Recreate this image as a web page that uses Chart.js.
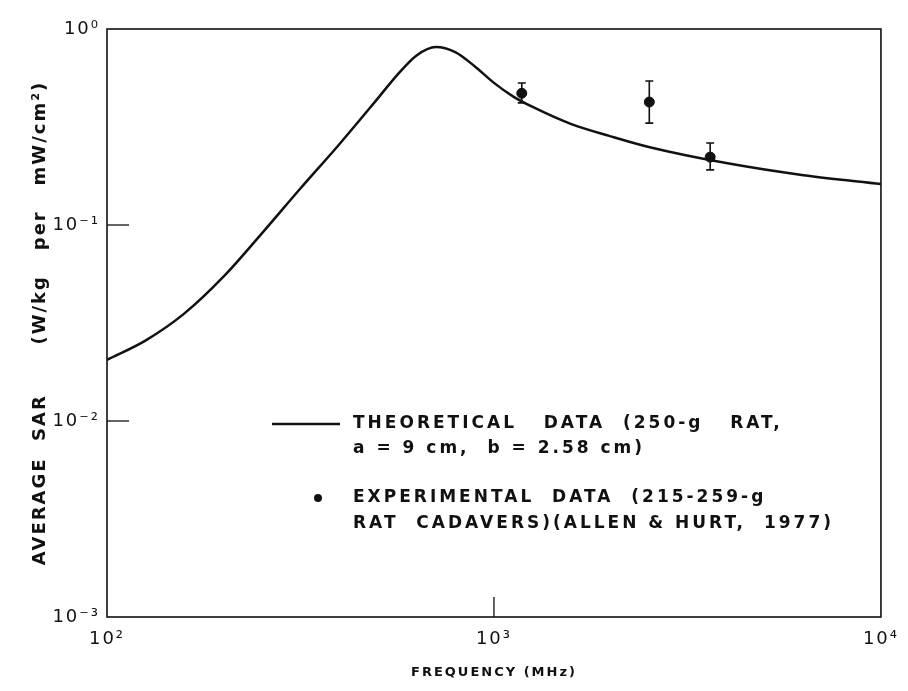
<!DOCTYPE html>
<html>
<head>
<meta charset="utf-8">
<script src="https://cdn.jsdelivr.net/npm/chart.js@4.4.1/dist/chart.umd.min.js"></script>
<style>
  html, body { margin: 0; padding: 0; background: #fff; }
  #wrap { width: 908px; height: 691px; position: relative; }
</style>
</head>
<body>
<div id="wrap"><canvas id="chart-sar"></canvas></div>
<script>
// ------------------------------------------------------------
// DATOS
// ------------------------------------------------------------
// curva teórica (rata 250 g, a = 9 cm, b = 2.58 cm)
const theoryFreq = [100, 126, 158, 200, 251, 316, 398, 501, 562, 631, 708, 794, 891, 1000, 1122, 1259, 1585, 1995, 2512, 3981, 6310, 10000];
const theorySar  = [0.0205, 0.0258, 0.0352, 0.0545, 0.0904, 0.1535, 0.2576, 0.4426, 0.582, 0.733, 0.809, 0.762, 0.646, 0.531, 0.452, 0.400, 0.327, 0.284, 0.250, 0.207, 0.1795, 0.1618];

// datos experimentales (Allen & Hurt, 1977)
const expFreq = [1180, 2520, 3620];
const expSar  = [0.47, 0.424, 0.222];
const expLow  = [0.42, 0.331, 0.191];
const expHigh = [0.53, 0.543, 0.262];

// ticks de los ejes
const xTicks = [100, 1000, 10000];
const yTicks = [0.001, 0.01, 0.1, 1];
const xInnerTicks = [1000];
const yInnerTicks = [0.01, 0.1];

const legendTheory = ['THEORETICAL   DATA  (250-g   RAT,', 'a = 9 cm,  b = 2.58 cm)'];
const legendExp    = ['EXPERIMENTAL  DATA  (215-259-g', 'RAT  CADAVERS)(ALLEN & HURT,  1977)'];

const INK = '#111';
const SUP = { '-': '⁻', '0': '⁰', '1': '¹', '2': '²', '3': '³', '4': '⁴' };
const pow10Label = v => '10' + String(Math.round(Math.log10(v))).split('').map(c => SUP[c]).join('');

Chart.defaults.font.family = '"DejaVu Sans", sans-serif';
Chart.defaults.color = INK;

// ------------------------------------------------------------
// PLUGIN: marco, ticks interiores, barras de error, leyenda
// ------------------------------------------------------------
const paperPlugin = {
    id: 'paper',
    beforeDraw(chart) {
        chart.ctx.letterSpacing = '2px';
    },
    afterDatasetsDraw(chart) {
        const ctx = chart.ctx;
        const a = chart.chartArea;
        const xs = chart.scales.x, ys = chart.scales.y;
        ctx.save();
        ctx.strokeStyle = INK;
        ctx.fillStyle = INK;

        // marco
        ctx.lineWidth = 1.6;
        ctx.strokeRect(a.left, a.top, a.right - a.left, a.bottom - a.top);

        // ticks interiores
        ctx.lineWidth = 1.3;
        yInnerTicks.forEach(v => {
            const y = ys.getPixelForValue(v);
            ctx.beginPath(); ctx.moveTo(a.left, y); ctx.lineTo(a.left + 22, y); ctx.stroke();
        });
        xInnerTicks.forEach(v => {
            const x = xs.getPixelForValue(v);
            ctx.beginPath(); ctx.moveTo(x, a.bottom); ctx.lineTo(x, a.bottom - 20); ctx.stroke();
        });

        // barras de error
        ctx.lineWidth = 1.6;
        expFreq.forEach((f, i) => {
            const x = xs.getPixelForValue(f);
            const y1 = ys.getPixelForValue(expHigh[i]);
            const y2 = ys.getPixelForValue(expLow[i]);
            ctx.beginPath();
            ctx.moveTo(x, y1); ctx.lineTo(x, y2);
            ctx.moveTo(x - 4, y1); ctx.lineTo(x + 4, y1);
            ctx.moveTo(x - 4, y2); ctx.lineTo(x + 4, y2);
            ctx.stroke();
        });

        // leyenda
        ctx.font = 'bold 17px "DejaVu Sans", sans-serif';
        ctx.letterSpacing = '3px';
        ctx.textBaseline = 'middle';
        ctx.textAlign = 'left';
        const tx = a.left + 246;

        ctx.lineWidth = 2.5;
        ctx.beginPath();
        ctx.moveTo(a.left + 165, a.top + 395);
        ctx.lineTo(a.left + 233, a.top + 395);
        ctx.stroke();
        ctx.fillText(legendTheory[0], tx, a.top + 395);
        ctx.fillText(legendTheory[1], tx, a.top + 420);

        ctx.beginPath();
        ctx.arc(a.left + 211, a.top + 469, 4, 0, Math.PI * 2);
        ctx.fill();
        ctx.fillText(legendExp[0], tx, a.top + 469);
        ctx.fillText(legendExp[1], tx, a.top + 495);

        ctx.restore();
    }
};

// ------------------------------------------------------------
// GRÁFICO
// ------------------------------------------------------------
const ctxSar = document.getElementById('chart-sar');
new Chart(ctxSar, {
    type: 'line',
    data: {
        datasets: [
            {
                label: 'Theoretical',
                data: theoryFreq.map((f, i) => ({ x: f, y: theorySar[i] })),
                borderColor: INK,
                borderWidth: 2.5,
                pointRadius: 0,
                cubicInterpolationMode: 'monotone',
                fill: false
            },
            {
                label: 'Experimental',
                data: expFreq.map((f, i) => ({ x: f, y: expSar[i] })),
                showLine: false,
                pointRadius: 5,
                pointBackgroundColor: INK,
                pointBorderColor: INK
            }
        ]
    },
    options: {
        responsive: true,
        maintainAspectRatio: false,
        animation: false,
        layout: { padding: { top: 29, right: 25, left: 0, bottom: 0 } },
        plugins: {
            legend: { display: false },
            tooltip: { enabled: false }
        },
        scales: {
            x: {
                type: 'logarithmic',
                min: 100,
                max: 10000,
                afterBuildTicks: s => { s.ticks = xTicks.map(v => ({ value: v })); },
                afterFit: s => { s.height = 74; },
                grid: { display: false, drawTicks: false },
                border: { display: false },
                ticks: {
                    autoSkip: false,
                    maxRotation: 0,
                    padding: 12,
                    font: { size: 18 },
                    callback: v => pow10Label(v)
                },
                title: {
                    display: true,
                    text: 'FREQUENCY (MHz)',
                    font: { size: 13, weight: 'bold' },
                    padding: { top: 0, bottom: 11 }
                }
            },
            y: {
                type: 'logarithmic',
                min: 0.001,
                max: 1,
                afterBuildTicks: s => { s.ticks = yTicks.map(v => ({ value: v })); },
                afterFit: s => { s.width = 107; },
                grid: { display: false, drawTicks: false },
                border: { display: false },
                ticks: {
                    autoSkip: false,
                    padding: 7,
                    font: { size: 18 },
                    callback: v => pow10Label(v)
                },
                title: {
                    display: true,
                    text: 'AVERAGE  SAR      (W/kg   per   mW/cm²)',
                    font: { size: 18, weight: 'bold' },
                    padding: { top: 30, bottom: 0 }
                }
            }
        }
    },
    plugins: [paperPlugin]
});
</script>
</body>
</html>
